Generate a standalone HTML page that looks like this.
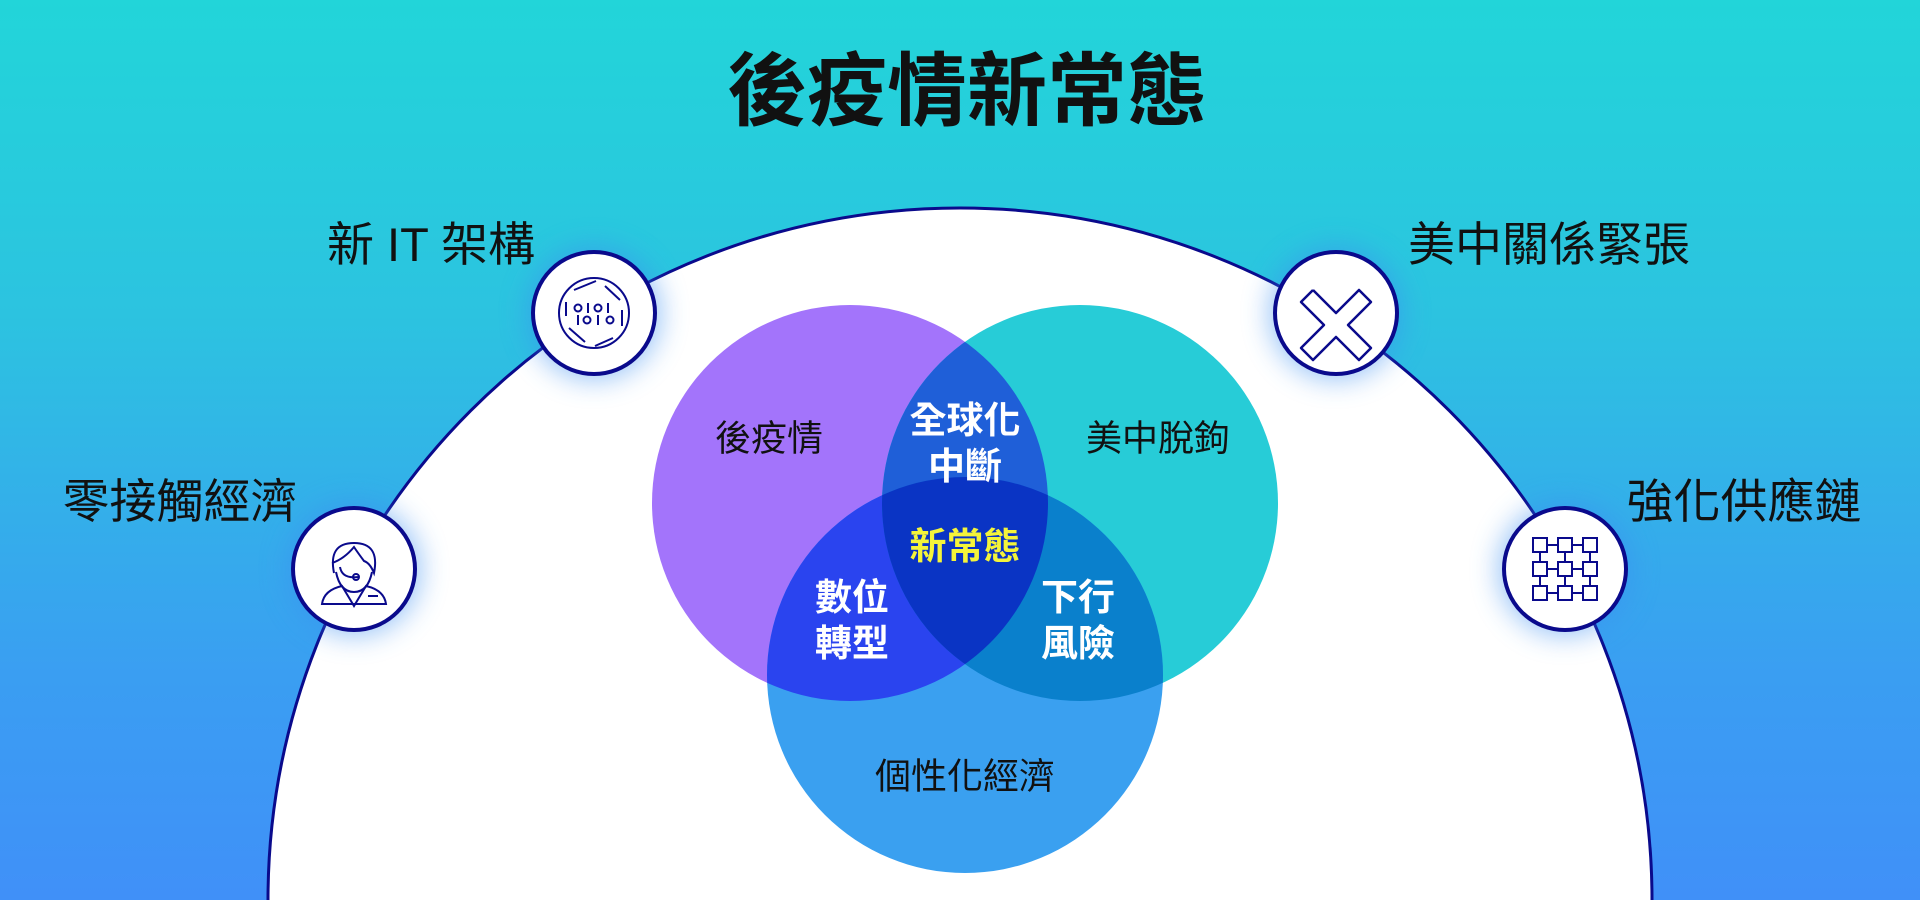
<!DOCTYPE html>
<html><head><meta charset="utf-8"><style>
html,body{margin:0;padding:0;width:1920px;height:900px;overflow:hidden}
body{background:linear-gradient(180deg,#22d5d9 0%,#2cc3e0 35%,#3a9ef2 75%,#4090f8 100%);font-family:"Liberation Sans","Noto Sans CJK TC",sans-serif;position:relative}
.t{position:absolute;transform:translate(-50%,-50%);white-space:nowrap;line-height:1.2;text-align:center}
</style></head><body>
<svg width="1920" height="900" style="position:absolute;left:0;top:0">
<defs>
<filter id="g" x="-1" y="-1" width="3" height="3"><feGaussianBlur stdDeviation="14"/></filter>
<clipPath id="cp"><circle cx="850" cy="503" r="198"/></clipPath>
<clipPath id="ct"><circle cx="1080" cy="503" r="198"/></clipPath>
</defs>
<circle cx="960" cy="900" r="692" fill="#fff" stroke="#0a0a8c" stroke-width="3"/>
<circle cx="850" cy="503" r="198" fill="#a374fb"/>
<circle cx="1080" cy="503" r="198" fill="#27ccd7"/>
<circle cx="965" cy="675" r="198" fill="#3aa0f0"/>
<circle cx="1080" cy="503" r="198" fill="#1f5fd8" clip-path="url(#cp)"/>
<circle cx="965" cy="675" r="198" fill="#2a44ef" clip-path="url(#cp)"/>
<circle cx="965" cy="675" r="198" fill="#0a80cc" clip-path="url(#ct)"/>
<g clip-path="url(#cp)"><circle cx="965" cy="675" r="198" fill="#0a34c4" clip-path="url(#ct)"/></g>
<g fill="#3a8ef0" opacity="0.55" filter="url(#g)">
<circle cx="594" cy="313" r="66"/><circle cx="354" cy="569" r="66"/><circle cx="1336" cy="313" r="66"/><circle cx="1565" cy="569" r="66"/>
</g>
<g fill="#fff" stroke="#0a0a8c" stroke-width="4">
<circle cx="594" cy="313" r="61"/><circle cx="354" cy="569" r="61"/><circle cx="1336" cy="313" r="61"/><circle cx="1565" cy="569" r="61"/>
</g>
<g fill="none" stroke="#0a0a8c" stroke-width="2">
<circle cx="594" cy="313" r="35"/>
<path d="M574 290 L596 281 M605 286 L620 300 M622 310 L622 326 M613 338 L595 346 M585 342 L569 328 M566 316 L566 302"/>
<circle cx="578" cy="308" r="3.5"/><circle cx="598" cy="308" r="3.5"/><path d="M588 303v10 M608 303v10"/>
<circle cx="587" cy="320" r="3.5"/><circle cx="610" cy="320" r="3.5"/><path d="M578 315v10 M598 315v10"/>
</g>
<path d="M1313 290 l23 23 l23 -23 l12 12 l-23 23 l-0 0 M1313 290 l-12 12 l23 23 l-23 23 l12 12 l23 -23 l23 23 l12 -12 l-23 -23 l23 -23 l-12 -12" fill="none" stroke="#0a0a8c" stroke-width="2.5" stroke-linejoin="round"/>
<g fill="none" stroke="#0a0a8c" stroke-width="2">
<path d="M334 573 q-6 -30 20 -30 q26 0 20 30 q-4 -10 -10 -12 q-6 -8 -10 -14 q-10 12 -22 16"/>
<path d="M336 572 q4 20 18 20 q14 0 18 -20"/>
<path d="M340 567 q2 12 18 10"/><circle cx="356" cy="577" r="3"/>
<path d="M322 604 q2 -14 20 -18 l12 20 l12 -20 q18 4 20 18 z"/>
<path d="M368 596h10"/>
</g>
<g fill="#fff" stroke="#0a0a8c" stroke-width="2">
<path d="M1540 545H1590M1540 569H1590M1540 593H1590M1540 545V593M1565 545V593M1590 545V593" fill="none"/>
<rect x="1533" y="538" width="14" height="14"/><rect x="1558" y="538" width="14" height="14"/><rect x="1583" y="538" width="14" height="14"/>
<rect x="1533" y="562" width="14" height="14"/><rect x="1558" y="562" width="14" height="14"/><rect x="1583" y="562" width="14" height="14"/>
<rect x="1533" y="586" width="14" height="14"/><rect x="1558" y="586" width="14" height="14"/><rect x="1583" y="586" width="14" height="14"/>
</g>
</svg>
<div class="t" style="left:967px;top:92px;font-size:80px;font-weight:bold;color:#111">後疫情新常態</div>
<div class="t" style="left:431px;top:245px;font-size:47px;color:#111">新 IT 架構</div>
<div class="t" style="left:180px;top:502px;font-size:47px;color:#111">零接觸經濟</div>
<div class="t" style="left:1549px;top:245px;font-size:47px;color:#111">美中關係緊張</div>
<div class="t" style="left:1744px;top:502px;font-size:47px;color:#111">強化供應鏈</div>
<div class="t" style="left:769px;top:438px;font-size:36px;color:#111">後疫情</div>
<div class="t" style="left:1158px;top:438px;font-size:36px;color:#111">美中脫鉤</div>
<div class="t" style="left:965px;top:776px;font-size:36px;color:#111">個性化經濟</div>
<div class="t" style="left:965px;top:444px;font-size:37px;font-weight:bold;color:#fff;line-height:46px">全球化<br>中斷</div>
<div class="t" style="left:965px;top:547px;font-size:37px;font-weight:bold;color:#f4f43a">新常態</div>
<div class="t" style="left:852px;top:621px;font-size:37px;font-weight:bold;color:#fff;line-height:46px">數位<br>轉型</div>
<div class="t" style="left:1078px;top:621px;font-size:37px;font-weight:bold;color:#fff;line-height:46px">下行<br>風險</div>
</body></html>
